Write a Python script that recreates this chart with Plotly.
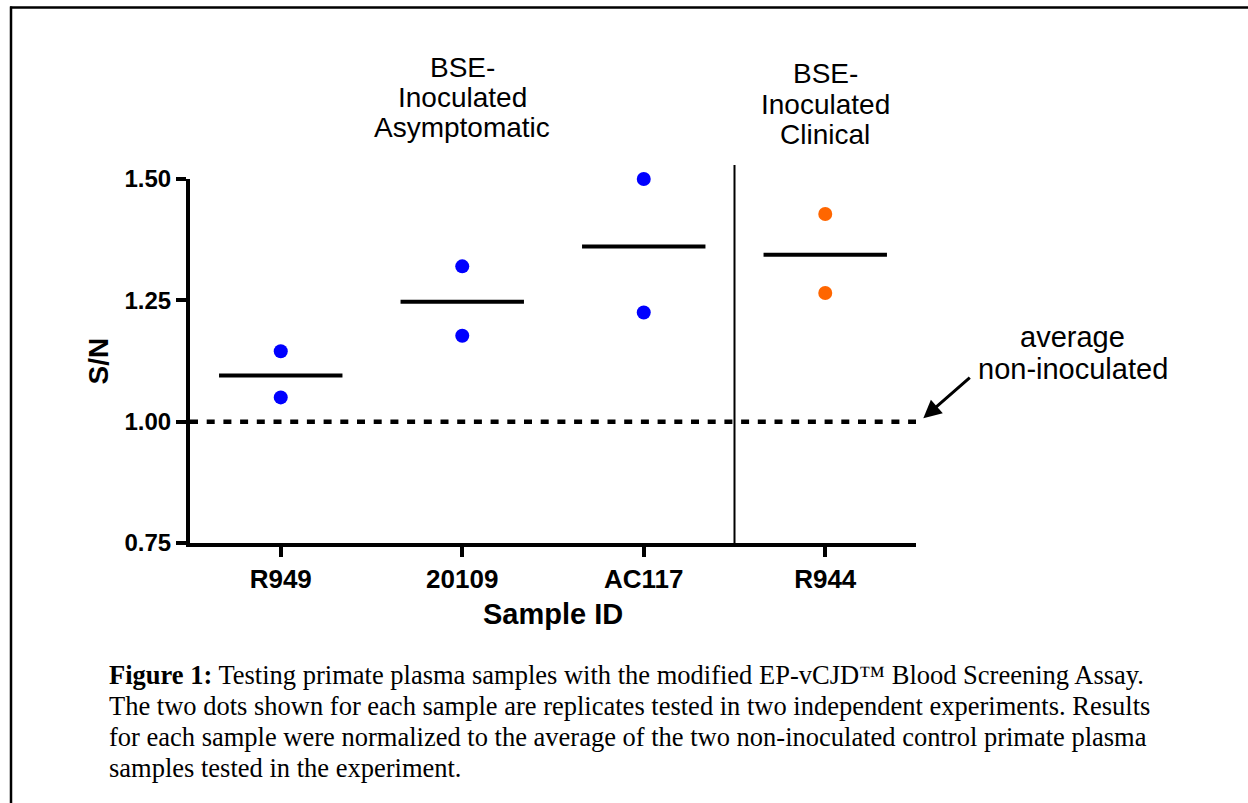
import plotly.graph_objects as go

# ---- data ----
samples = ["R949", "20109", "AC117", "R944"]
rep1 = [1.145, 1.320, 1.500, 1.428]
rep2 = [1.050, 1.177, 1.225, 1.265]
means = [1.095, 1.247, 1.361, 1.344]
dot_colors = ["#0000FF", "#0000FF", "#0000FF", "#FF6600"]
y_ticks = [0.75, 1.00, 1.25, 1.50]
baseline = 1.00
group_labels = [["BSE-", "Inoculated", "Asymptomatic"], ["BSE-", "Inoculated", "Clinical"]]
group_centers = [1, 3]
ref_label = ["average", "non-inoculated"]
caption = [
    "<b>Figure 1:</b> Testing primate plasma samples with the modified EP-vCJD\u2122 Blood Screening Assay.",
    "The two dots shown for each sample are replicates tested in two independent experiments. Results",
    "for each sample were normalized to the average of the two non-inoculated control primate plasma",
    "samples tested in the experiment.",
]

SANS = "Liberation Sans, Arial, sans-serif"
SERIF = "Liberation Serif, Times New Roman, serif"

L, R, T, B = 190, 332, 179, 260
W, H = 1248, 803
PW, PH = W - L - R, H - T - B

def px_x(p):
    return (p - L) / PW

def px_y(p):
    return (H - B - p) / PH

xs = list(range(len(samples)))

fig = go.Figure()

# dashed reference line
fig.add_trace(go.Scatter(
    x=[-0.5, 3.5], y=[baseline, baseline], mode="lines",
    line=dict(color="black", width=4.5, dash="8px,8.7px"),
    hoverinfo="skip", showlegend=False))

# mean lines
mx, my = [], []
for i, m in zip(xs, means):
    mx += [i - 0.34, i + 0.34, None]
    my += [m, m, None]
fig.add_trace(go.Scatter(x=mx, y=my, mode="lines",
                         line=dict(color="black", width=4),
                         hoverinfo="skip", showlegend=False))

# replicate dots
fig.add_trace(go.Scatter(x=xs + xs, y=rep1 + rep2, mode="markers",
                         marker=dict(size=14, color=dot_colors + dot_colors),
                         cliponaxis=False, showlegend=False))

shapes = [
    # vertical separator
    dict(type="line", xref="x", yref="paper", x0=2.5, x1=2.5, y0=0, y1=px_y(165),
         line=dict(color="black", width=2)),
    # frame (left and top)
    dict(type="line", xref="paper", yref="paper", x0=px_x(11), x1=px_x(11),
         y0=px_y(6.5), y1=px_y(820), line=dict(color="black", width=2.5)),
    dict(type="line", xref="paper", yref="paper", x0=px_x(10), x1=px_x(1260),
         y0=px_y(7.5), y1=px_y(7.5), line=dict(color="black", width=2.5)),
]

annotations = []
group_rows_y = [[67.5, 97.5, 127.8], [74, 104, 134]]
for g, cx, rows_y in zip(group_labels, group_centers, group_rows_y):
    for txt, py in zip(g, rows_y):
        annotations.append(dict(text=txt, xref="x", yref="paper", x=cx, y=px_y(py),
                                xanchor="center", yanchor="middle", showarrow=False,
                                font=dict(family=SANS, size=28, color="black")))

for txt, py in zip(ref_label, [336.7, 369]):
    annotations.append(dict(text=txt, xref="paper", yref="paper", x=px_x(1072.5), y=px_y(py),
                            xanchor="center", yanchor="middle", showarrow=False,
                            font=dict(family=SANS, size=29, color="black")))

# arrow pointing at the dashed line
annotations.append(dict(text="", x=px_x(923.3), y=px_y(418.3), xref="paper", yref="paper",
                        ax=48, ay=-42, showarrow=True, arrowhead=2, arrowsize=1.2,
                        arrowwidth=3, arrowcolor="black", standoff=0))

# axis titles
annotations.append(dict(text="S/N", textangle=-90, xref="paper", yref="paper",
                        x=px_x(97.5), y=0.5, xanchor="center", yanchor="middle",
                        showarrow=False, font=dict(family=SANS, size=28, color="black", weight="bold")))
annotations.append(dict(text="Sample ID", xref="paper", yref="paper",
                        x=px_x(553), y=px_y(614), xanchor="center", yanchor="middle",
                        showarrow=False, font=dict(family=SANS, size=29, color="black", weight="bold")))

# caption
for txt, py in zip(caption, [675, 706, 737, 768]):
    annotations.append(dict(text=txt, xref="paper", yref="paper", x=px_x(107), y=px_y(py),
                            xanchor="left", yanchor="middle", showarrow=False, align="left",
                            font=dict(family=SERIF, size=26.5, color="black")))

fig.update_layout(
    width=W, height=H,
    margin=dict(l=L, r=R, t=T, b=B, pad=0),
    paper_bgcolor="white", plot_bgcolor="white",
    showlegend=False,
    shapes=shapes, annotations=annotations,
    xaxis=dict(range=[-0.5, 3.5], tickmode="array", tickvals=xs, ticktext=samples,
               showline=True, linecolor="black", linewidth=4, showgrid=False, zeroline=False,
               ticks="outside", ticklen=10, tickwidth=4, tickcolor="black",
               tickfont=dict(family=SANS, size=26, color="black", weight="bold"),
               fixedrange=True),
    yaxis=dict(range=[0.75, 1.5], tickmode="array", tickvals=y_ticks,
               ticktext=[f"{v:.2f}" for v in y_ticks],
               showline=True, linecolor="black", linewidth=4, showgrid=False, zeroline=False,
               ticks="outside", ticklen=10, tickwidth=4, tickcolor="black",
               tickfont=dict(family=SANS, size=24, color="black", weight="bold"),
               fixedrange=True),
)

fig.write_html("out.html", config={"displayModeBar": False},
               post_script="document.body.style.margin='0';document.body.style.overflow='hidden';")
